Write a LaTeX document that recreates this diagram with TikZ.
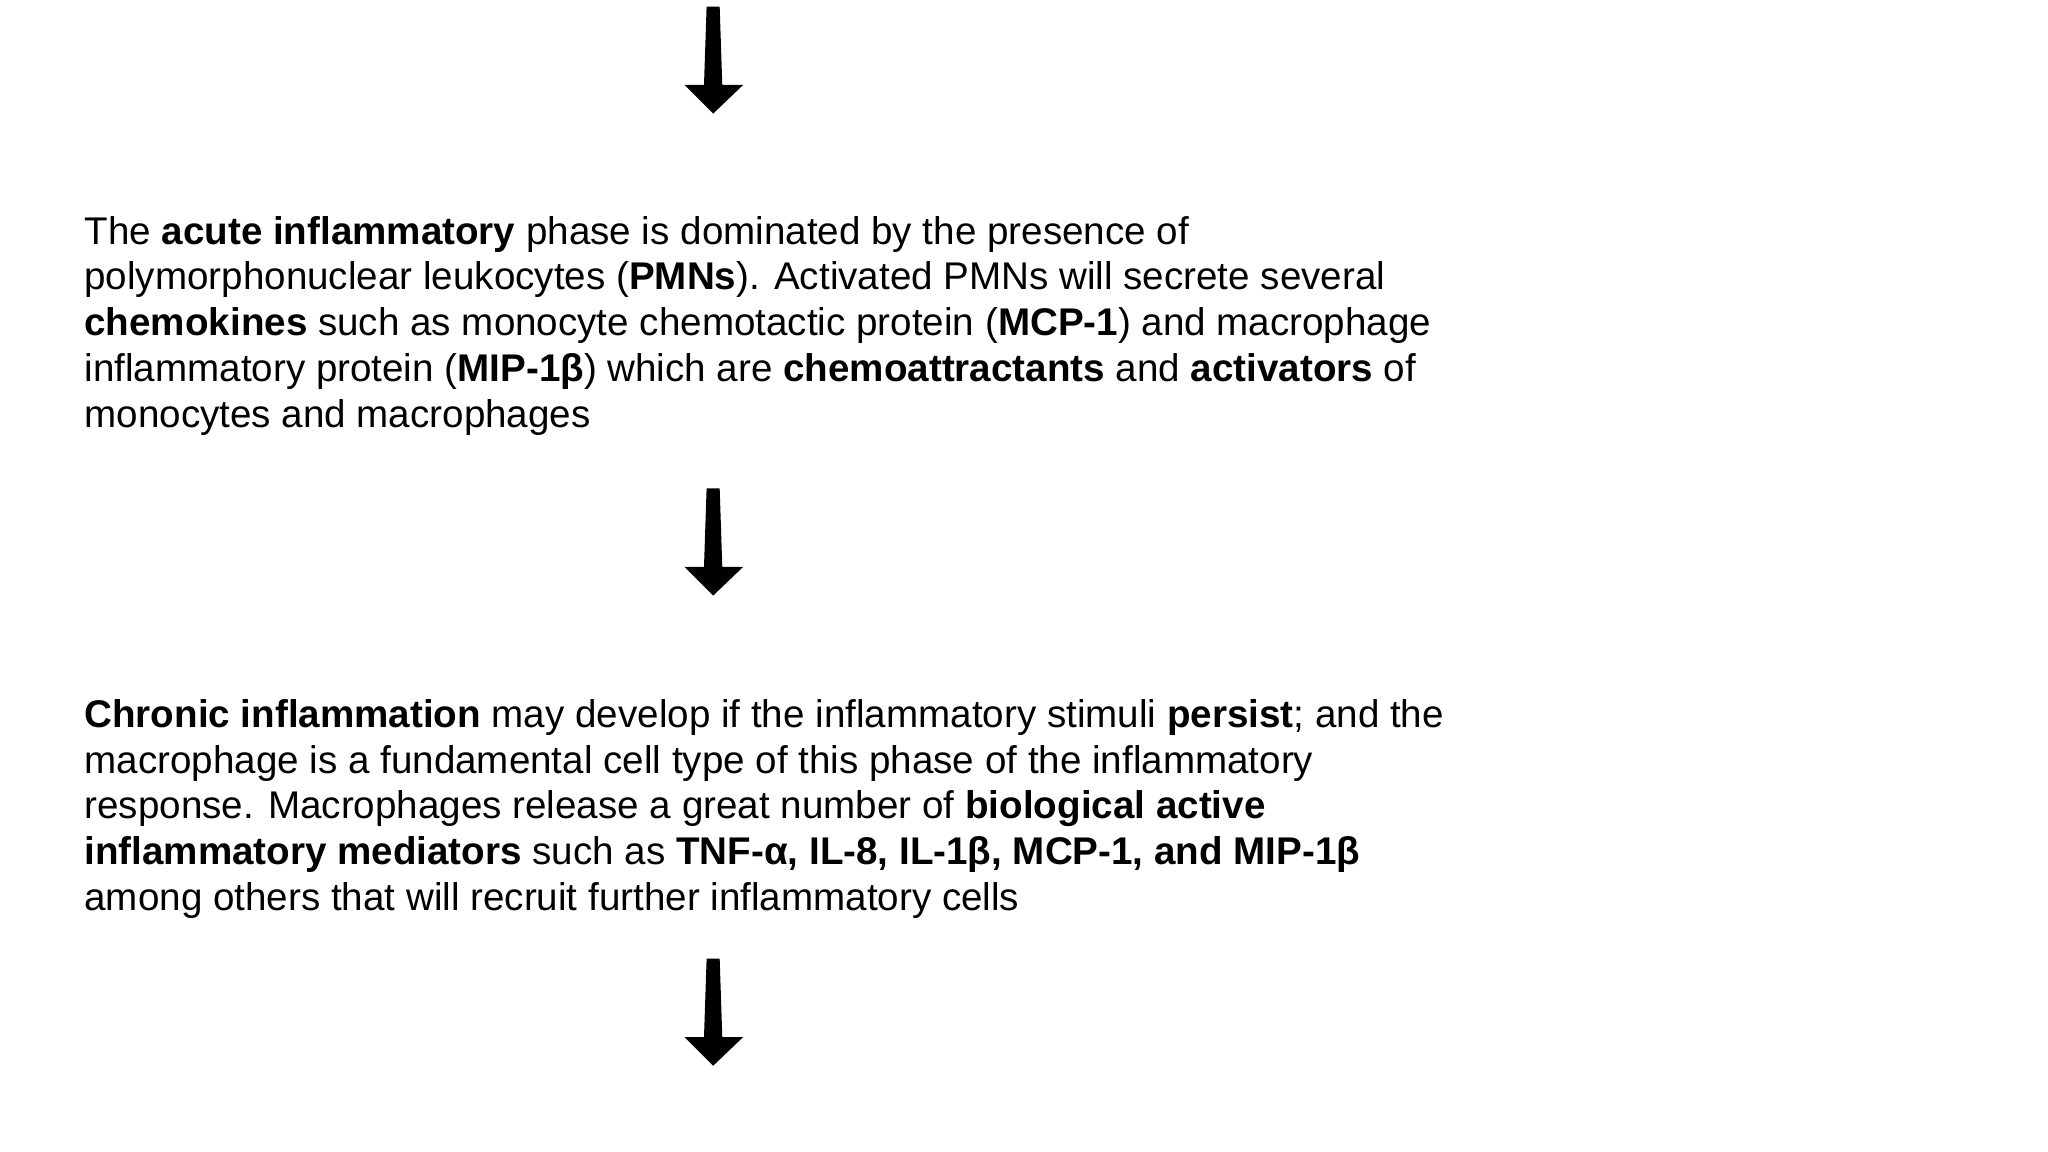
\documentclass[tikz,border=0pt]{standalone}
\usepackage{fontspec}
\setmainfont{Liberation Sans}
\begin{document}
\begin{tikzpicture}[x=0.01cm,y=-0.01cm,
  ln/.style={anchor=base west,inner sep=0pt,font=\fontsize{8.4}{10}\selectfont},
  blockarrow/.style={fill=black,draw=none}]
\useasboundingbox (0,0) rectangle (1568,882);
\newcommand{\myarrow}[1]{\fill[black] (541,#1) -- (551,#1) -- (553,#1+60) -- (569,#1+60) -- (546,#1+82) -- (524,#1+60) -- (539,#1+60) -- cycle;}
\myarrow{5}
\myarrow{374}
\myarrow{734}
\node[ln] (a1) at (64,187) {The \textbf{acute inflammatory} phase is dominated by the presence of};
\node[ln] (a2) at (64,222) {polymorphonuclear leukocytes (\textbf{PMNs}). Activated PMNs will secrete several};
\node[ln] (a3) at (64,257) {\textbf{chemokines} such as monocyte chemotactic protein (\textbf{MCP-1}) and macrophage};
\node[ln] (a4) at (64,292) {inflammatory protein (\textbf{MIP-1β}) which are \textbf{chemoattractants} and \textbf{activators} of};
\node[ln] (a5) at (64,327) {monocytes and macrophages};
\node[ln] (b1) at (64,557) {\textbf{Chronic inflammation} may develop if the inflammatory stimuli \textbf{persist}; and the};
\node[ln] (b2) at (64,592) {macrophage is a fundamental cell type of this phase of the inflammatory};
\node[ln] (b3) at (64,627) {response. Macrophages release a great number of \textbf{biological active}};
\node[ln] (b4) at (64,662) {\textbf{inflammatory mediators} such as \textbf{TNF-α, IL-8, IL-1β, MCP-1, and MIP-1β}};
\node[ln] (b5) at (64,697) {among others that will recruit further inflammatory cells};
\end{tikzpicture}
\end{document}
